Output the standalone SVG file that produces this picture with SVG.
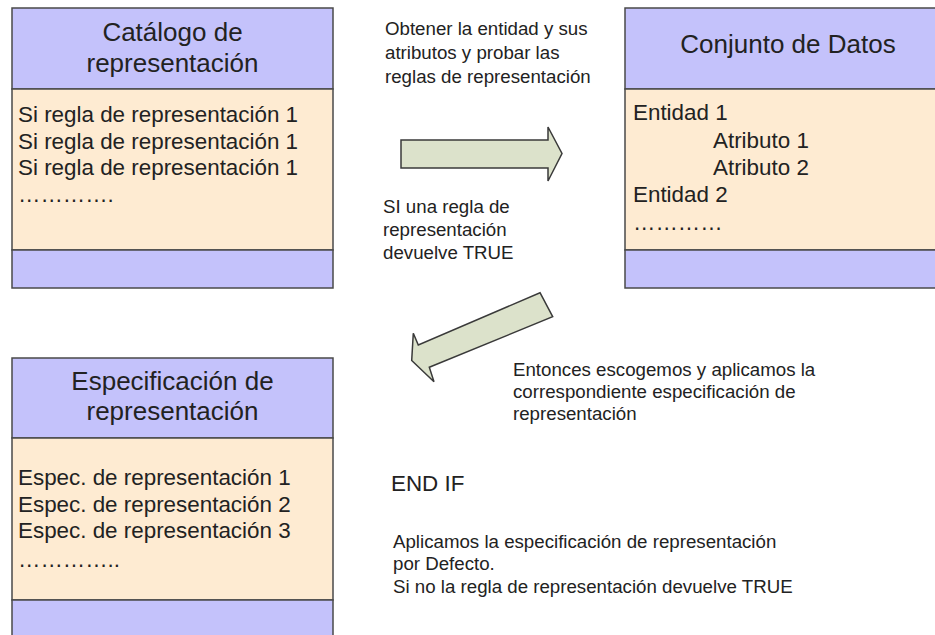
<svg xmlns="http://www.w3.org/2000/svg" width="935" height="635" viewBox="0 0 935 635">
<style>
.hd{fill:#c4c2fb;stroke:#4a4a4a;stroke-width:1.5}
.bd{fill:#feebd2;stroke:#4a4a4a;stroke-width:1.5}
.ar{fill:#dce2cb;stroke:#3a3a3a;stroke-width:1.5;stroke-linejoin:miter}
text{font-family:"Liberation Sans",Arial,sans-serif;fill:#222}
.h{font-size:26px;text-anchor:middle}
.b{font-size:22.4px}
.n{font-size:18.7px}
</style>
<rect width="935" height="635" fill="#ffffff"/>
<g id="catalogo">
<rect class="hd" x="12" y="8" width="321" height="81"/>
<rect class="bd" x="12" y="89" width="321" height="161"/>
<rect class="hd" x="12" y="250" width="321" height="38"/>
<text class="h" x="172.5" y="41">Catálogo de</text>
<text class="h" x="172.5" y="72">representación</text>
<text class="b" x="18" y="122">Si regla de representación 1</text>
<text class="b" x="18" y="148.5">Si regla de representación 1</text>
<text class="b" x="18" y="175">Si regla de representación 1</text>
<text class="b" x="18" y="202">………….</text>
</g>
<g id="conjunto">
<rect class="hd" x="625" y="8" width="325" height="81"/>
<rect class="bd" x="625" y="89" width="325" height="161"/>
<rect class="hd" x="625" y="250" width="325" height="38"/>
<text class="h" x="788" y="53">Conjunto de Datos</text>
<text class="b" x="633" y="120">Entidad 1</text>
<text class="b" x="713" y="148">Atributo 1</text>
<text class="b" x="713" y="175">Atributo 2</text>
<text class="b" x="633" y="202">Entidad 2</text>
<text class="b" x="633" y="230">…………</text>
</g>
<g id="especificacion">
<rect class="hd" x="12" y="358" width="321" height="80"/>
<rect class="bd" x="12" y="438" width="321" height="162"/>
<rect class="hd" x="12" y="600" width="321" height="45"/>
<text class="h" x="172.5" y="390">Especificación de</text>
<text class="h" x="172.5" y="420">representación</text>
<text class="b" x="18" y="485">Espec. de representación 1</text>
<text class="b" x="18" y="511.5">Espec. de representación 2</text>
<text class="b" x="18" y="538">Espec. de representación 3</text>
<text class="b" x="18" y="567">…………..</text>
</g>
<g id="connectors">
<polygon class="ar" points="401,140 548,140 548,127 562,153.5 548,181 548,168 401,168"/>
<polygon class="ar" points="540,292.7 552.7,316.7 429.3,367.3 434,381.7 411.7,360.5 413.3,333.3 418.3,345"/>
</g>
<g id="labels">
<text class="n" x="385" y="35">Obtener la entidad y sus</text>
<text class="n" x="385" y="59">atributos y probar las</text>
<text class="n" x="385" y="83">reglas de representación</text>
<text class="n" x="383" y="213">SI una regla de</text>
<text class="n" x="383" y="236">representación</text>
<text class="n" x="383" y="259">devuelve TRUE</text>
<text class="n" x="513" y="376">Entonces escogemos y aplicamos la</text>
<text class="n" x="513" y="398">correspondiente especificación de</text>
<text class="n" x="513" y="420">representación</text>
<text class="b" x="391" y="491">END IF</text>
<text class="n" x="393" y="548">Aplicamos la especificación de representación</text>
<text class="n" x="393" y="570">por Defecto.</text>
<text class="n" x="393" y="593">Si no la regla de representación devuelve TRUE</text>
</g>
</svg>
